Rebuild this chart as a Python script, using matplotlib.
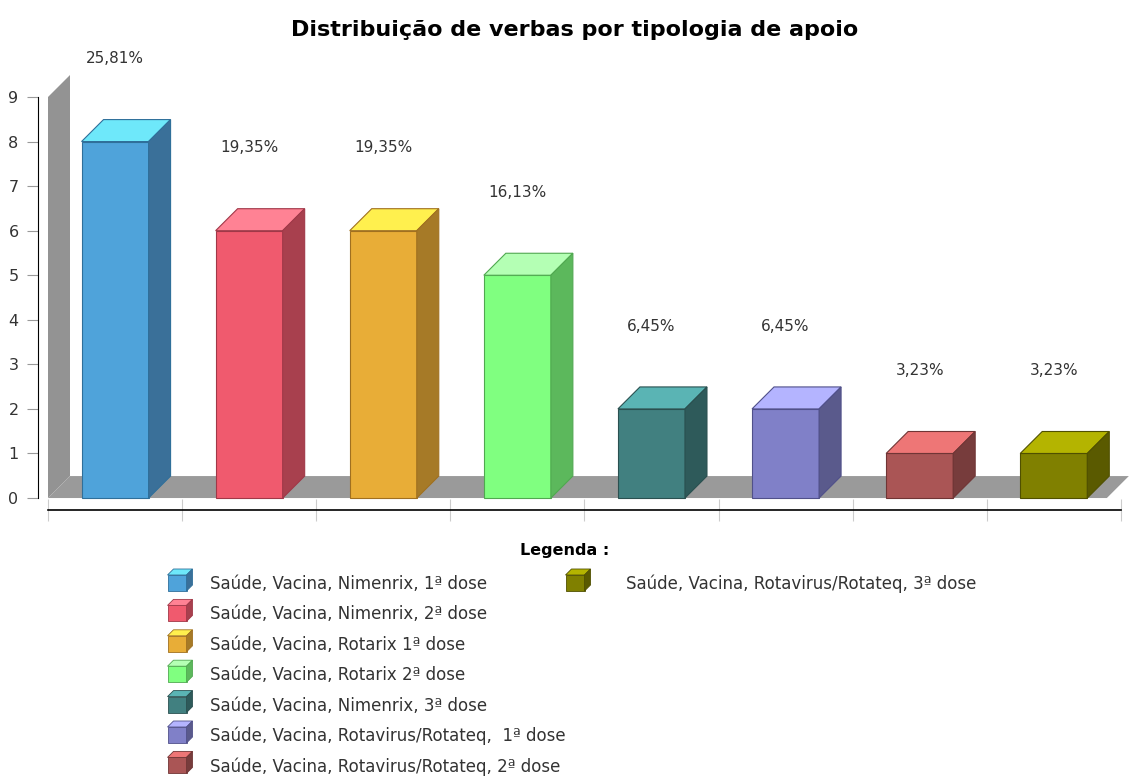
# %%
import matplotlib
matplotlib.use("Agg")
import matplotlib.pyplot as plt
from matplotlib.patches import Polygon, Rectangle

# %%
# Data
categories = [
    "Saúde, Vacina, Nimenrix, 1ª dose",
    "Saúde, Vacina, Nimenrix, 2ª dose",
    "Saúde, Vacina, Rotarix 1ª dose",
    "Saúde, Vacina, Rotarix 2ª dose",
    "Saúde, Vacina, Nimenrix, 3ª dose",
    "Saúde, Vacina, Rotavirus/Rotateq,  1ª dose",
    "Saúde, Vacina, Rotavirus/Rotateq, 2ª dose",
    "Saúde, Vacina, Rotavirus/Rotateq, 3ª dose",
]
values = [8, 6, 6, 5, 2, 2, 1, 1]
pct_labels = ["25,81%", "19,35%", "19,35%", "16,13%", "6,45%", "6,45%", "3,23%", "3,23%"]

# front / top / side colours for each bar
front_cols = ["#4fa3da", "#f05a6e", "#e8ad37", "#80ff80", "#418080", "#8080c8", "#aa5555", "#808000"]
top_cols = ["#6ee8fa", "#ff8294", "#fff04e", "#b4ffb4", "#5ab4b4", "#b4b4ff", "#ee7676", "#b4b400"]
side_cols = ["#3a7099", "#a8404e", "#a67a27", "#5cb85c", "#2e5a5a", "#5a5a8c", "#773c3c", "#5a5a00"]
edge_cols = ["#2f6f9a", "#a03848", "#a07020", "#50a850", "#2a5050", "#50508a", "#703535", "#505000"]

# %%
W, H = 1129, 776
fig = plt.figure(figsize=(W / 100, H / 100), dpi=100)

# axes: x in slot units (0..8), y in value units
left_px, right_px, top_px, bot_px = 38, 1125, 97, 511.4
ax = fig.add_axes([left_px / W, 1 - bot_px / H, (right_px - left_px) / W, (bot_px - top_px) / H])
slot = 134.1
ax.set_xlim((left_px - 48) / slot, (right_px - 48) / slot)
ax.set_ylim(-0.3, 9)

dx = 22 / slot   # depth offset (x)
dy = 22 / 44.6   # depth offset (y)
n = len(values)

# back wall and floor
wall = Polygon([(0, 0), (0, 9), (dx, 9 + dy), (dx, dy)], closed=True,
               facecolor="#939393", edgecolor="none", clip_on=False, zorder=1)
floor = Polygon([(0, 0), (dx, dy), (n + 0.06, dy), (n + 0.06 - dx, 0)], closed=True,
                facecolor="#9a9a9a", edgecolor="none", clip_on=False, zorder=1)
ax.add_patch(wall)
ax.add_patch(floor)

# 3d bars
w = 0.5
for i, v in enumerate(values):
    x0 = i + 0.25
    ax.add_patch(Rectangle((x0, 0), w, v, facecolor=front_cols[i], edgecolor=edge_cols[i],
                           lw=0.8, zorder=3))
    ax.add_patch(Polygon([(x0, v), (x0 + w, v), (x0 + w + dx, v + dy), (x0 + dx, v + dy)],
                         closed=True, facecolor=top_cols[i], edgecolor=edge_cols[i], lw=0.8,
                         zorder=3, clip_on=False))
    ax.add_patch(Polygon([(x0 + w, 0), (x0 + w + dx, dy), (x0 + w + dx, v + dy), (x0 + w, v)],
                         closed=True, facecolor=side_cols[i], edgecolor=edge_cols[i], lw=0.8,
                         zorder=3, clip_on=False))
    ax.text(x0 + w / 2, v + 1.86, pct_labels[i], ha="center", va="center",
            fontsize=11, color="#333333", clip_on=False)

# axes styling
for s in ["top", "right"]:
    ax.spines[s].set_visible(False)
ax.spines["left"].set_bounds(0, 9)
ax.spines["left"].set_color("black")
ax.spines["bottom"].set_position(("data", -0.27))
ax.spines["bottom"].set_bounds(0, n)
ax.spines["bottom"].set_linewidth(1.2)
ax.set_yticks(range(10))
ax.tick_params(axis="y", length=8, color="#999999", labelsize=11.5, labelcolor="#333333", pad=6)
ax.set_xticks(range(n + 1))
ax.set_xticklabels([])
ax.tick_params(axis="x", direction="inout", length=16, color="#cccccc")
ax.patch.set_alpha(0)

fig.text(575 / W, 1 - 30 / H, "Distribuição de verbas por tipologia de apoio",
         ha="center", va="center", fontsize=16, fontweight="bold", color="black")

# %%
# legend drawn in pixel coords
lax = fig.add_axes([0, 0, 1, 1])
lax.set_xlim(0, W)
lax.set_ylim(H, 0)
lax.axis("off")
lax.text(565, 551, "Legenda :", ha="center", va="center", fontsize=11.5, fontweight="bold")


def cube(cx, cy, i):
    sw, sh, d = 19, 16, 6
    x0, y0 = cx - (sw + d) / 2, cy + (sh + d) / 2
    lax.add_patch(Rectangle((x0, y0 - sh), sw, sh, facecolor=front_cols[i], edgecolor=edge_cols[i], lw=0.6))
    lax.add_patch(Polygon([(x0, y0 - sh), (x0 + d, y0 - sh - d), (x0 + sw + d, y0 - sh - d), (x0 + sw, y0 - sh)],
                          closed=True, facecolor=top_cols[i], edgecolor=edge_cols[i], lw=0.6))
    lax.add_patch(Polygon([(x0 + sw, y0), (x0 + sw, y0 - sh), (x0 + sw + d, y0 - sh - d), (x0 + sw + d, y0 - d)],
                          closed=True, facecolor=side_cols[i], edgecolor=edge_cols[i], lw=0.6))


for i, name in enumerate(categories):
    if i < 7:
        cx, tx, cy = 180, 210, 584 + i * 30.4
    else:
        cx, tx, cy = 578, 626, 584
    cube(cx, cy - 4, i)
    lax.text(tx, cy, name, ha="left", va="center", fontsize=12, color="#333333")

fig.savefig("out.png", dpi=100)
